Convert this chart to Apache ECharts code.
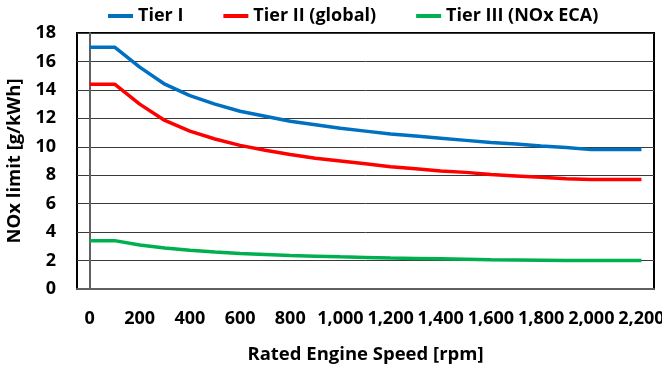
<!DOCTYPE html>
<html>
<head>
<meta charset="utf-8">
<script src="https://cdn.jsdelivr.net/npm/echarts@6/dist/echarts.min.js"></script>
<style>
  html, body { margin: 0; padding: 0; background: #fff; }
  #main { width: 662px; height: 366px; }
</style>
</head>
<body>
<div id="main"></div>
<script>
var speeds = [0, 100, 200, 300, 400, 500, 600, 700, 800, 900, 1000, 1100,
  1200, 1300, 1400, 1500, 1600, 1700, 1800, 1900, 2000, 2100, 2200];
var tier1 = [17.0, 17.0, 15.6, 14.4, 13.6, 13.0, 12.5, 12.15, 11.8, 11.55, 11.3, 11.1,
  10.9, 10.75, 10.6, 10.45, 10.3, 10.2, 10.05, 9.95, 9.8, 9.8, 9.8];
var tier2 = [14.4, 14.4, 13.0, 11.85, 11.1, 10.55, 10.1, 9.75, 9.45, 9.2, 9.0, 8.8,
  8.6, 8.45, 8.3, 8.2, 8.05, 7.95, 7.85, 7.75, 7.7, 7.7, 7.7];
var tier3 = [3.4, 3.4, 3.1, 2.88, 2.72, 2.6, 2.5, 2.43, 2.36, 2.31, 2.26, 2.22,
  2.18, 2.15, 2.12, 2.09, 2.06, 2.04, 2.02, 2.0, 2.0, 2.0, 2.0];
var xTickLabels = [0, 200, 400, 600, 800, 1000, 1200, 1400, 1600, 1800, 2000, 2200];
var seriesNames = ['Tier I', 'Tier II (global)', 'Tier III (NOx ECA)'];
var seriesColors = ['#0070C0', '#FF0000', '#00B050'];

var fontName = 'Open Sans';

function tierSeries(name, values, color) {
  return {
    name: name,
    type: 'line',
    data: speeds.map(function (s, i) { return [s, values[i]]; }),
    symbol: 'none',
    lineStyle: { color: color, width: 3.5 },
    itemStyle: { color: color }
  };
}

var nox = echarts.init(document.getElementById('main'));

nox.setOption({
  animation: false,
  legend: {
    left: 103,
    top: 2,
    icon: 'rect',
    itemWidth: 25,
    itemHeight: 4,
    itemGap: 40,
    textStyle: { fontFamily: fontName, fontWeight: 'bold', fontSize: 18, color: '#000' },
    data: seriesNames
  },
  grid: {
    left: 77,
    right: 8,
    top: 33,
    bottom: 77,
    outerBoundsMode: 'none',
    show: true,
    borderColor: '#000',
    borderWidth: 2
  },
  xAxis: {
    type: 'value',
    min: -50,
    max: 2250,
    name: 'Rated Engine Speed [rpm]',
    nameLocation: 'middle',
    nameGap: 56,
    nameTextStyle: { fontFamily: fontName, fontWeight: 'bold', fontSize: 18.5, color: '#000' },
    axisLine: { show: true, lineStyle: { color: '#606060', width: 2 } },
    axisTick: { show: false, customValues: xTickLabels },
    splitLine: { show: false },
    axisLabel: { customValues: xTickLabels, margin: 21, fontFamily: fontName, fontWeight: 'bold', fontSize: 18, color: '#000' }
  },
  yAxis: {
    type: 'value',
    min: 0,
    max: 18,
    interval: 2,
    name: 'NOx limit [g/kWh]',
    nameLocation: 'middle',
    nameGap: 50,
    nameTextStyle: { fontFamily: fontName, fontWeight: 'bold', fontSize: 18.5, color: '#000' },
    axisLine: { show: true, lineStyle: { color: '#606060', width: 2 } },
    axisTick: { show: false },
    axisLabel: { margin: 21, fontFamily: fontName, fontWeight: 'bold', fontSize: 18, color: '#000' },
    splitLine: { show: true, lineStyle: { color: '#3a3a3a', width: 1 } }
  },
  series: [
    tierSeries(seriesNames[0], tier1, seriesColors[0]),
    tierSeries(seriesNames[1], tier2, seriesColors[1]),
    tierSeries(seriesNames[2], tier3, seriesColors[2])
  ]
});
</script>
</body>
</html>
